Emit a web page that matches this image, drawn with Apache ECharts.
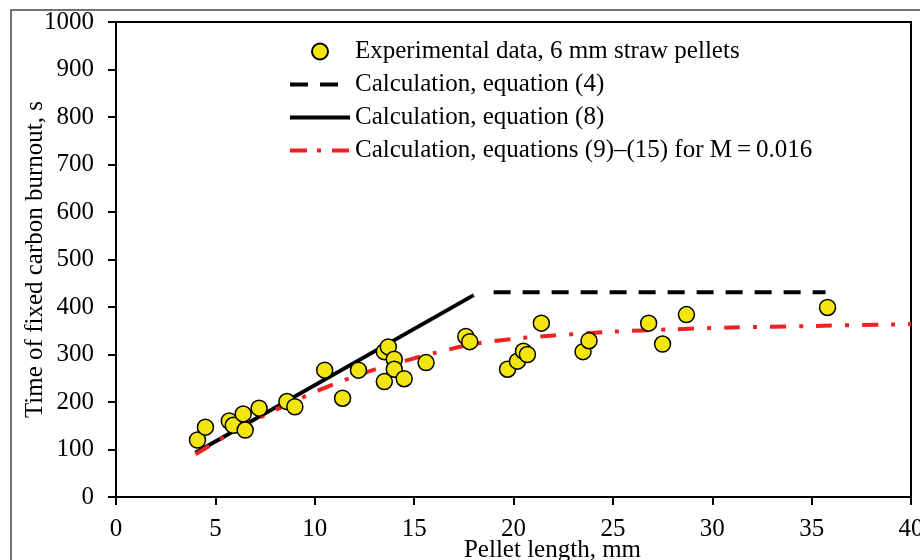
<!DOCTYPE html>
<html>
  <head>
    <meta charset="utf-8" />
    <title>Fixed carbon burnout time vs pellet length</title>
    <style>
      body {
        margin: 0;
        padding: 0;
        background: #fff;
      }
      #chart {
        width: 920px;
        height: 560px;
      }
    </style>
  </head>
  <body>
    <div id="chart"></div>
    <script src="https://cdn.jsdelivr.net/npm/echarts@6/dist/echarts.min.js"></script>
    <script type="text/javascript">
      // experimental points: pellet length (mm), burnout time (s)
      var expLength = [4.1, 4.5, 5.7, 5.9, 6.4, 6.5, 7.2, 8.6, 9.0, 10.5, 11.4, 12.2, 13.5, 13.7, 14.0, 14.0,
        13.5, 14.5, 15.6, 17.6, 17.8, 19.7, 20.2, 20.5, 20.7, 21.4, 23.5, 23.8, 26.8, 27.5, 28.7, 35.8];
      var expTime = [120, 147, 160, 151, 175, 141, 187, 201, 190, 267, 208, 267, 306, 316, 290, 269,
        243, 249, 283, 338, 327, 269, 286, 307, 300, 366, 306, 329, 366, 322, 384, 399];

      // equation (4)
      var eq4Length = [19, 35.7];
      var eq4Time = [431, 431];

      // equation (8)
      var eq8Length = [4, 18];
      var eq8Time = [93, 425];

      // equations (9)-(15), M = 0.016
      var eq9Length = [4, 5, 6, 7, 8, 9, 10, 11, 12, 13, 14, 15, 16, 18, 20, 22, 25, 28, 31, 35, 40];
      var eq9Time = [90, 115, 140, 162, 183, 202, 221, 238, 254, 268, 280, 292, 303, 322, 333, 340, 348, 353, 357, 360, 364];

      var xTicks = [0, 5, 10, 15, 20, 25, 30, 35, 40];

      function pairs(xs, ys) {
        return xs.map(function (x, i) {
          return [x, ys[i]];
        });
      }

      var font = "'Liberation Serif', 'Times New Roman', serif";
      var fs = 25;
      var chart = echarts.init(document.getElementById('chart'));

      var option = {
        backgroundColor: '#fff',
        animation: false,
        textStyle: { fontFamily: font },
        graphic: [
          {
            type: 'rect',
            shape: { x: 11, y: 10, width: 1000, height: 1000 },
            style: { fill: 'none', stroke: '#444', lineWidth: 1.5 },
            silent: true
          }
        ],
        grid: {
          left: 116,
          top: 22,
          right: 9,
          bottom: 63,
          show: true,
          borderColor: '#000',
          borderWidth: 2,
          containLabel: false,
          outerBoundsMode: 'none'
        },
        legend: {
          orient: 'vertical',
          left: 283,
          top: 34,
          itemWidth: 60,
          itemHeight: 16,
          itemGap: 8,
          lineStyle: { width: 4 },
          textStyle: {
            fontFamily: font,
            fontSize: fs,
            lineHeight: 25,
            color: '#000'
          },
          data: [
            { name: 'Experimental data, 6 mm straw pellets' },
            { name: 'Calculation, equation (4)', itemStyle: { opacity: 0 }, lineStyle: { width: 4, type: [18, 12] } },
            { name: 'Calculation, equation (8)', itemStyle: { opacity: 0 } },
            {
              name: 'Calculation, equations (9)\u2013(15) for M\u2009=\u20090.016',
              itemStyle: { opacity: 0 },
              lineStyle: { width: 4, type: [17, 10, 4, 11] }
            }
          ]
        },
        xAxis: {
          type: 'value',
          min: 0,
          max: 40,
          interval: 5,
          name: 'Pellet length, mm',
          nameLocation: 'middle',
          nameGap: 41,
          nameMoveOverlap: false,
          nameTextStyle: {
            fontFamily: font,
            fontSize: fs,
            color: '#000',
            padding: [0, 0, 0, 78]
          },
          axisLine: { show: true, onZero: false, lineStyle: { color: '#000', width: 2 } },
          axisTick: { show: true, length: 8, lineStyle: { color: '#000', width: 2 } },
          axisLabel: {
            fontFamily: font,
            fontSize: fs,
            color: '#000',
            margin: 20,
            formatter: function (v) {
              return xTicks.indexOf(v) >= 0 ? String(v) : '';
            }
          },
          splitLine: { show: false }
        },
        yAxis: {
          type: 'value',
          min: 0,
          max: 1000,
          interval: 100,
          name: 'Time of fixed carbon burnout, s',
          nameLocation: 'middle',
          nameGap: 68,
          nameMoveOverlap: false,
          nameTextStyle: {
            fontFamily: font,
            fontSize: fs,
            color: '#000'
          },
          axisLine: { show: true, onZero: false, lineStyle: { color: '#000', width: 2 } },
          axisTick: { show: true, length: 8, lineStyle: { color: '#000', width: 2 } },
          axisLabel: {
            fontFamily: font,
            fontSize: fs,
            color: '#000',
            margin: 22,
            formatter: function (v) {
              return String(v);
            }
          },
          splitLine: { show: false }
        },
        series: [
          {
            name: 'Calculation, equation (4)',
            type: 'line',
            symbol: 'none',
            z: 2,
            lineStyle: { color: '#000', width: 4, type: [17, 12] },
            itemStyle: { color: '#000' },
            data: pairs(eq4Length, eq4Time)
          },
          {
            name: 'Calculation, equation (8)',
            type: 'line',
            symbol: 'none',
            z: 2,
            lineStyle: { color: '#000', width: 4, type: 'solid' },
            itemStyle: { color: '#000' },
            data: pairs(eq8Length, eq8Time)
          },
          {
            name: 'Calculation, equations (9)\u2013(15) for M\u2009=\u20090.016',
            type: 'line',
            symbol: 'none',
            smooth: 0.3,
            z: 2,
            lineStyle: { color: '#ee2222', width: 4, type: [16, 13, 4, 13] },
            itemStyle: { color: '#ee2222' },
            data: pairs(eq9Length, eq9Time)
          },
          {
            name: 'Experimental data, 6 mm straw pellets',
            type: 'scatter',
            symbol: 'circle',
            symbolSize: 16,
            z: 5,
            itemStyle: { color: '#f3e60f', borderColor: '#000', borderWidth: 1.5, opacity: 1 },
            data: pairs(expLength, expTime)
          }
        ]
      };

      chart.setOption(option);
    </script>
  </body>
</html>
